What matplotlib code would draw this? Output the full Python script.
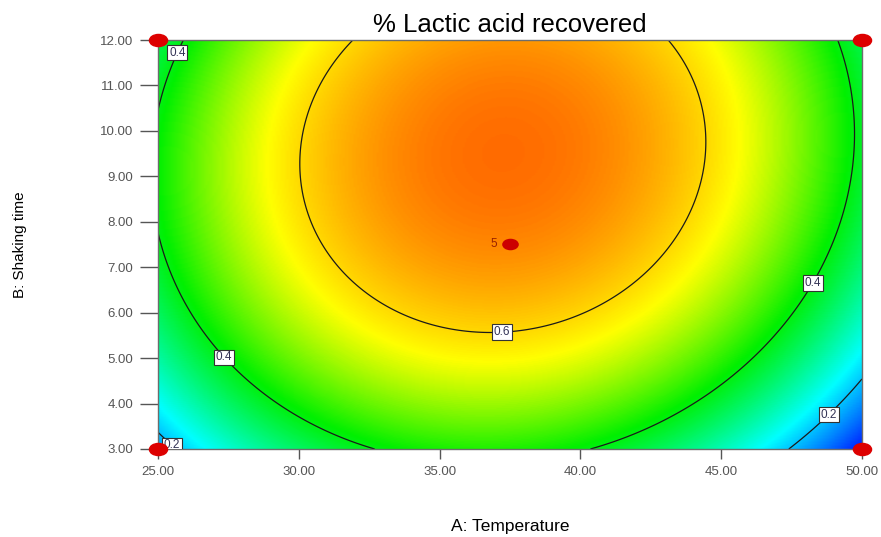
import numpy as np
import matplotlib
matplotlib.use('Agg')
import matplotlib.pyplot as plt
from matplotlib.colors import LinearSegmentedColormap
from matplotlib.path import Path
from matplotlib.transforms import Affine2D

plt.rcParams['font.family'] = ['Liberation Sans', 'DejaVu Sans']

# factor ranges
temp_range = [25.0, 50.0]
time_range = [3.0, 12.0]

# quadratic model in coded units
# intercept, A, B, AB, A^2, B^2
coef = [0.6735, -0.023, 0.117, 0.024, -0.3016, -0.13]

levels = [0.2, 0.4, 0.6]

# design points
pt_temp = [25.0, 25.0, 50.0, 50.0, 37.5]
pt_time = [3.0, 12.0, 3.0, 12.0, 7.5]
center_reps = '5'

xticks = [25, 30, 35, 40, 45, 50]
yticks = [3, 4, 5, 6, 7, 8, 9, 10, 11, 12]

# grid
x = np.linspace(temp_range[0], temp_range[1], 400)
y = np.linspace(time_range[0], time_range[1], 400)
X, Y = np.meshgrid(x, y)
A = (X - 37.5) / 12.5
B = (Y - 7.5) / 4.5
Z = (coef[0] + coef[1]*A + coef[2]*B + coef[3]*A*B
     + coef[4]*A**2 + coef[5]*B**2)

vmin, vmax = 0.06, 0.80
stops = [(0.06, '#0000ff'), (0.24, '#00ffff'), (0.41, '#00f000'),
         (0.565, '#ffff00'), (0.80, '#ff0000')]
cmap = LinearSegmentedColormap.from_list(
    'de', [((v - vmin) / (vmax - vmin), c) for v, c in stops])

fig = plt.figure(figsize=(8.81, 5.37), dpi=100)
ax = fig.add_axes([0.1793, 0.1639, 0.7991, 0.7616])

ax.imshow(Z, extent=[temp_range[0], temp_range[1], time_range[0], time_range[1]],
          origin='lower', aspect='auto', cmap=cmap, vmin=vmin, vmax=vmax,
          interpolation='bilinear')
cs = ax.contour(X, Y, Z, levels=levels, colors='#1a1a1a', linewidths=0.9)

label_pos = [(25.6, 11.75), (27.5, 5.1), (37.2, 5.7), (48.3, 6.63),
             (48.6, 3.9), (25.6, 3.15)]
txts = ax.clabel(cs, inline=False, fmt='%.1f', fontsize=8.5, manual=label_pos)
for t in txts:
    t.set_rotation(0)
    t.set_color('#333355')
    t.set_bbox(dict(boxstyle='square,pad=0.15', fc='white', ec='#333333', lw=0.8))

# elongated oval marker like the design-point dots
oval = Path.unit_circle().transformed(Affine2D().scale(1.5, 1.0))
ax.scatter(pt_temp[:4], pt_time[:4], s=170, marker=oval, color='#dd0000',
           clip_on=False, zorder=5)
ax.scatter(pt_temp[4:], pt_time[4:], s=120, marker=oval, color='#cc0000',
           clip_on=False, zorder=5)
ax.text(37.5 - 0.45, 7.5, center_reps, color='#992200', fontsize=8.5,
        ha='right', va='center', zorder=5)

ax.set_xlim(temp_range)
ax.set_ylim(time_range)
ax.set_xticks(xticks)
ax.set_xticklabels(['%.2f' % v for v in xticks])
ax.set_yticks(yticks)
ax.set_yticklabels(['%.2f' % v for v in yticks])
ax.tick_params(axis='x', direction='out', length=7, width=1, color='#555555',
               labelcolor='#555555', labelsize=9.5, pad=5)
ax.tick_params(axis='y', direction='out', length=13, width=1, color='#555555',
               labelcolor='#555555', labelsize=9.5, pad=5)
for s in ax.spines.values():
    s.set_color('#6d6d6d')
    s.set_linewidth(1)

ax.set_title('% Lactic acid recovered', fontsize=18.5, pad=6)
ax.set_xlabel('A: Temperature', fontsize=12.5)
ax.xaxis.set_label_coords(0.5, -0.19)
ax.xaxis.label.set_va('center')
ax.set_ylabel('B: Shaking time', fontsize=11)
ax.yaxis.set_label_coords(-0.196, 0.5)
ax.yaxis.label.set_va('center')

fig.savefig('out.png', dpi=100)
